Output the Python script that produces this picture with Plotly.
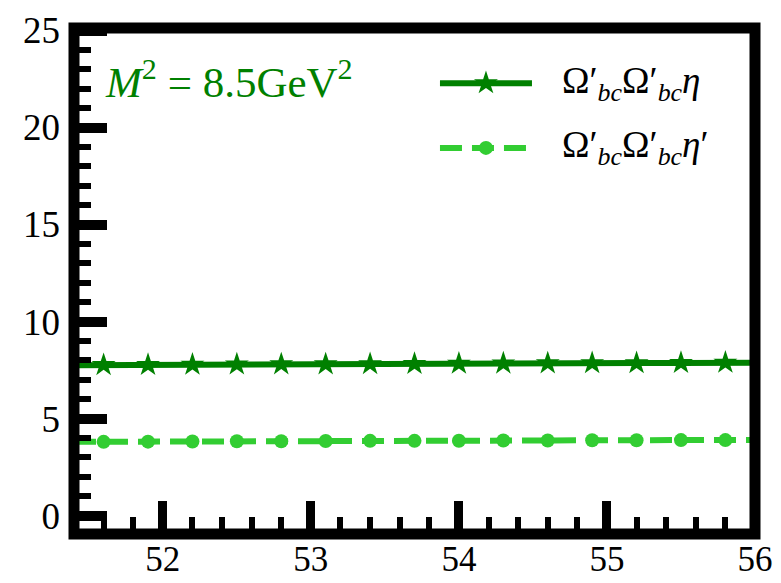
import plotly.graph_objects as go

# Sampled curves on the plotted window (endpoints are the frame edges)
x_curve = [51.4, 51.6, 51.9, 52.2, 52.5, 52.8, 53.1, 53.4, 53.7, 54.0,
           54.3, 54.6, 54.9, 55.2, 55.5, 55.8, 56.0]
y_eta = [7.75, 7.76, 7.77, 7.78, 7.79, 7.80, 7.80, 7.81, 7.82, 7.83,
         7.84, 7.85, 7.86, 7.86, 7.87, 7.88, 7.88]
y_etap = [3.80, 3.80, 3.81, 3.82, 3.83, 3.83, 3.84, 3.85, 3.85, 3.86,
          3.87, 3.87, 3.88, 3.88, 3.89, 3.89, 3.90]
# markers sit on the interior samples only
marker_slice = slice(1, -1)

x_ticks = [52, 53, 54, 55, 56]
y_ticks = [0, 5, 10, 15, 20, 25]

name_eta = "Ω′<sub><i>bc</i></sub>Ω′<sub><i>bc</i></sub><i>η</i>"
name_etap = "Ω′<sub><i>bc</i></sub>Ω′<sub><i>bc</i></sub><i>η</i>′"
label_m2 = "<i>M</i><sup>2</sup> = 8.5GeV<sup>2</sup>"

DARK = "#008000"
LIGHT = "#32CD32"
SERIF = "Liberation Serif, serif"

fig = go.Figure()

fig.add_trace(go.Scatter(x=x_curve, y=y_eta, mode="lines",
                         line=dict(color=DARK, width=6), showlegend=False))
fig.add_trace(go.Scatter(x=x_curve[marker_slice], y=y_eta[marker_slice], mode="markers",
                         marker=dict(symbol="star", size=18, color=DARK), showlegend=False))
fig.add_trace(go.Scatter(x=x_curve, y=y_etap, mode="lines",
                         line=dict(color=LIGHT, width=6, dash="22px,10px"), showlegend=False))
fig.add_trace(go.Scatter(x=x_curve[marker_slice], y=y_etap[marker_slice], mode="markers",
                         marker=dict(symbol="circle", size=14, color=LIGHT), showlegend=False))

# Legend keys drawn on a unit overlay axis
key_x = [0.5374, 0.6725]
key_mid = [sum(key_x) / 2]
fig.add_trace(go.Scatter(x=key_x, y=[0.891, 0.891], mode="lines", xaxis="x2", yaxis="y2",
                         line=dict(color=DARK, width=6), showlegend=False))
fig.add_trace(go.Scatter(x=key_mid, y=[0.891], mode="markers", xaxis="x2", yaxis="y2",
                         marker=dict(symbol="star", size=18, color=DARK), showlegend=False))
fig.add_trace(go.Scatter(x=key_x, y=[0.763, 0.763], mode="lines", xaxis="x2", yaxis="y2",
                         line=dict(color=LIGHT, width=6, dash="22px,10px"), showlegend=False))
fig.add_trace(go.Scatter(x=key_mid, y=[0.763], mode="markers", xaxis="x2", yaxis="y2",
                         marker=dict(symbol="circle", size=14, color=LIGHT), showlegend=False))

fig.update_layout(
    width=781, height=583,
    margin=dict(l=74, r=26, t=28, b=49, autoexpand=False),
    font=dict(family=SERIF),
    paper_bgcolor="white", plot_bgcolor="white",
    xaxis=dict(range=[51.4, 56.0], tickvals=x_ticks, ticks="inside", ticklen=33,
               tickwidth=9, tickcolor="black", showgrid=False, zeroline=False,
               showline=False, tickfont=dict(family=SERIF, size=35, color="black"),
               ticklabelstandoff=1, automargin=False,
               minor=dict(dtick=0.2, tick0=51.4, ticks="inside", ticklen=17,
                          tickwidth=6, tickcolor="black", showgrid=False)),
    yaxis=dict(range=[-0.95, 25.13], tickvals=y_ticks, ticks="inside", ticklen=33,
               tickwidth=10, tickcolor="black", showgrid=False, zeroline=False,
               showline=False, tickfont=dict(family=SERIF, size=37, color="black"),
               ticklabelstandoff=13, automargin=False,
               minor=dict(dtick=1, tick0=0, ticks="inside", ticklen=17,
                          tickwidth=6, tickcolor="black", showgrid=False)),
    xaxis2=dict(overlaying="x", range=[0, 1], visible=False, automargin=False),
    yaxis2=dict(overlaying="y", range=[0, 1], visible=False, automargin=False),
    shapes=[dict(type="rect", xref="paper", yref="paper", x0=0, x1=1, y0=0, y1=1,
                 line=dict(color="black", width=11), layer="above")],
    annotations=[
        dict(text=label_m2, xref="paper", yref="paper", x=0.042, y=0.899,
             xanchor="left", yanchor="middle", showarrow=False,
             font=dict(family=SERIF, size=43, color=DARK)),
        dict(text=name_eta, xref="paper", yref="paper", x=0.7137, y=0.891,
             xanchor="left", yanchor="middle", showarrow=False,
             font=dict(family=SERIF, size=37, color="black")),
        dict(text=name_etap, xref="paper", yref="paper", x=0.7137, y=0.763,
             xanchor="left", yanchor="middle", showarrow=False,
             font=dict(family=SERIF, size=37, color="black")),
    ],
)

fig.write_html("out.html")
